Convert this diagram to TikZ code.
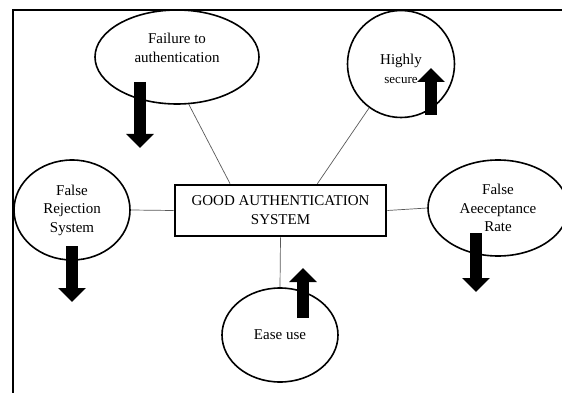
\documentclass[tikz,border=0pt]{standalone}
\usepackage{fontspec}
\setmainfont{Liberation Serif}
\usetikzlibrary{shapes.geometric,arrows.meta}

\begin{document}
\begin{tikzpicture}[x=1pt,y=-1pt,
  bubble/.style={draw,line width=1.6pt,ellipse,inner sep=0pt,align=center,
    font=\fontsize{15}{18.5}\selectfont},
  link/.style={draw=black!65,line width=0.7pt},
  trend/.style={line width=12.5pt,-{Triangle[width=27pt,length=14pt]}}]
  \useasboundingbox (0,0) rectangle (562,393);

  % Frame
  \draw[line width=2.2pt] (13,393) -- (13,10) -- (562,10);

  % Central box
  \node[draw,line width=2.6pt,minimum width=211pt,minimum height=51pt,inner sep=0pt,
    align=center,font=\fontsize{15}{19}\selectfont] (box) at (280.5,210.5)
    {GOOD AUTHENTICATION\\SYSTEM};

  % Surrounding properties
  \node[bubble,minimum width=164pt,minimum height=94pt] (fail) at (177,57)
    {Failure to\\authentication\\ \null};
  \node[bubble,circle,minimum size=107pt] (secure) at (401,64)
    {\rule{0pt}{20pt}Highly\\[1pt]{\fontsize{13}{16}\selectfont secure}};
  \node[bubble,minimum width=116pt,minimum height=100pt] (frs) at (72,210)
    {False\\Rejection\\System};
  \node[bubble,minimum width=140pt,minimum height=96pt] (far) at (498,208)
    {False\\Aeeceptance\\Rate};
  \node[bubble,minimum width=116pt,minimum height=94pt] (ease) at (280,335)
    {Ease use};

  % Links to the box
  \draw[link] (fail.-76) -- (box.152);
  \draw[link] (secure.234) -- (box.36.5);
  \draw[link] (frs.east) -- (box.west);
  \draw[link] (box.east) -- (far.west);
  \draw[link] (box.south) -- (ease.north);

  % Up and down trends
  \draw[trend] (140,82) -- (140,148);
  \draw[trend] (72,246) -- (72,302);
  \draw[trend] (476,233) -- (476,292);
  \draw[trend] (431,115) -- (431,68);
  \draw[trend] (303,318) -- (303,268);

\end{tikzpicture}
\end{document}
